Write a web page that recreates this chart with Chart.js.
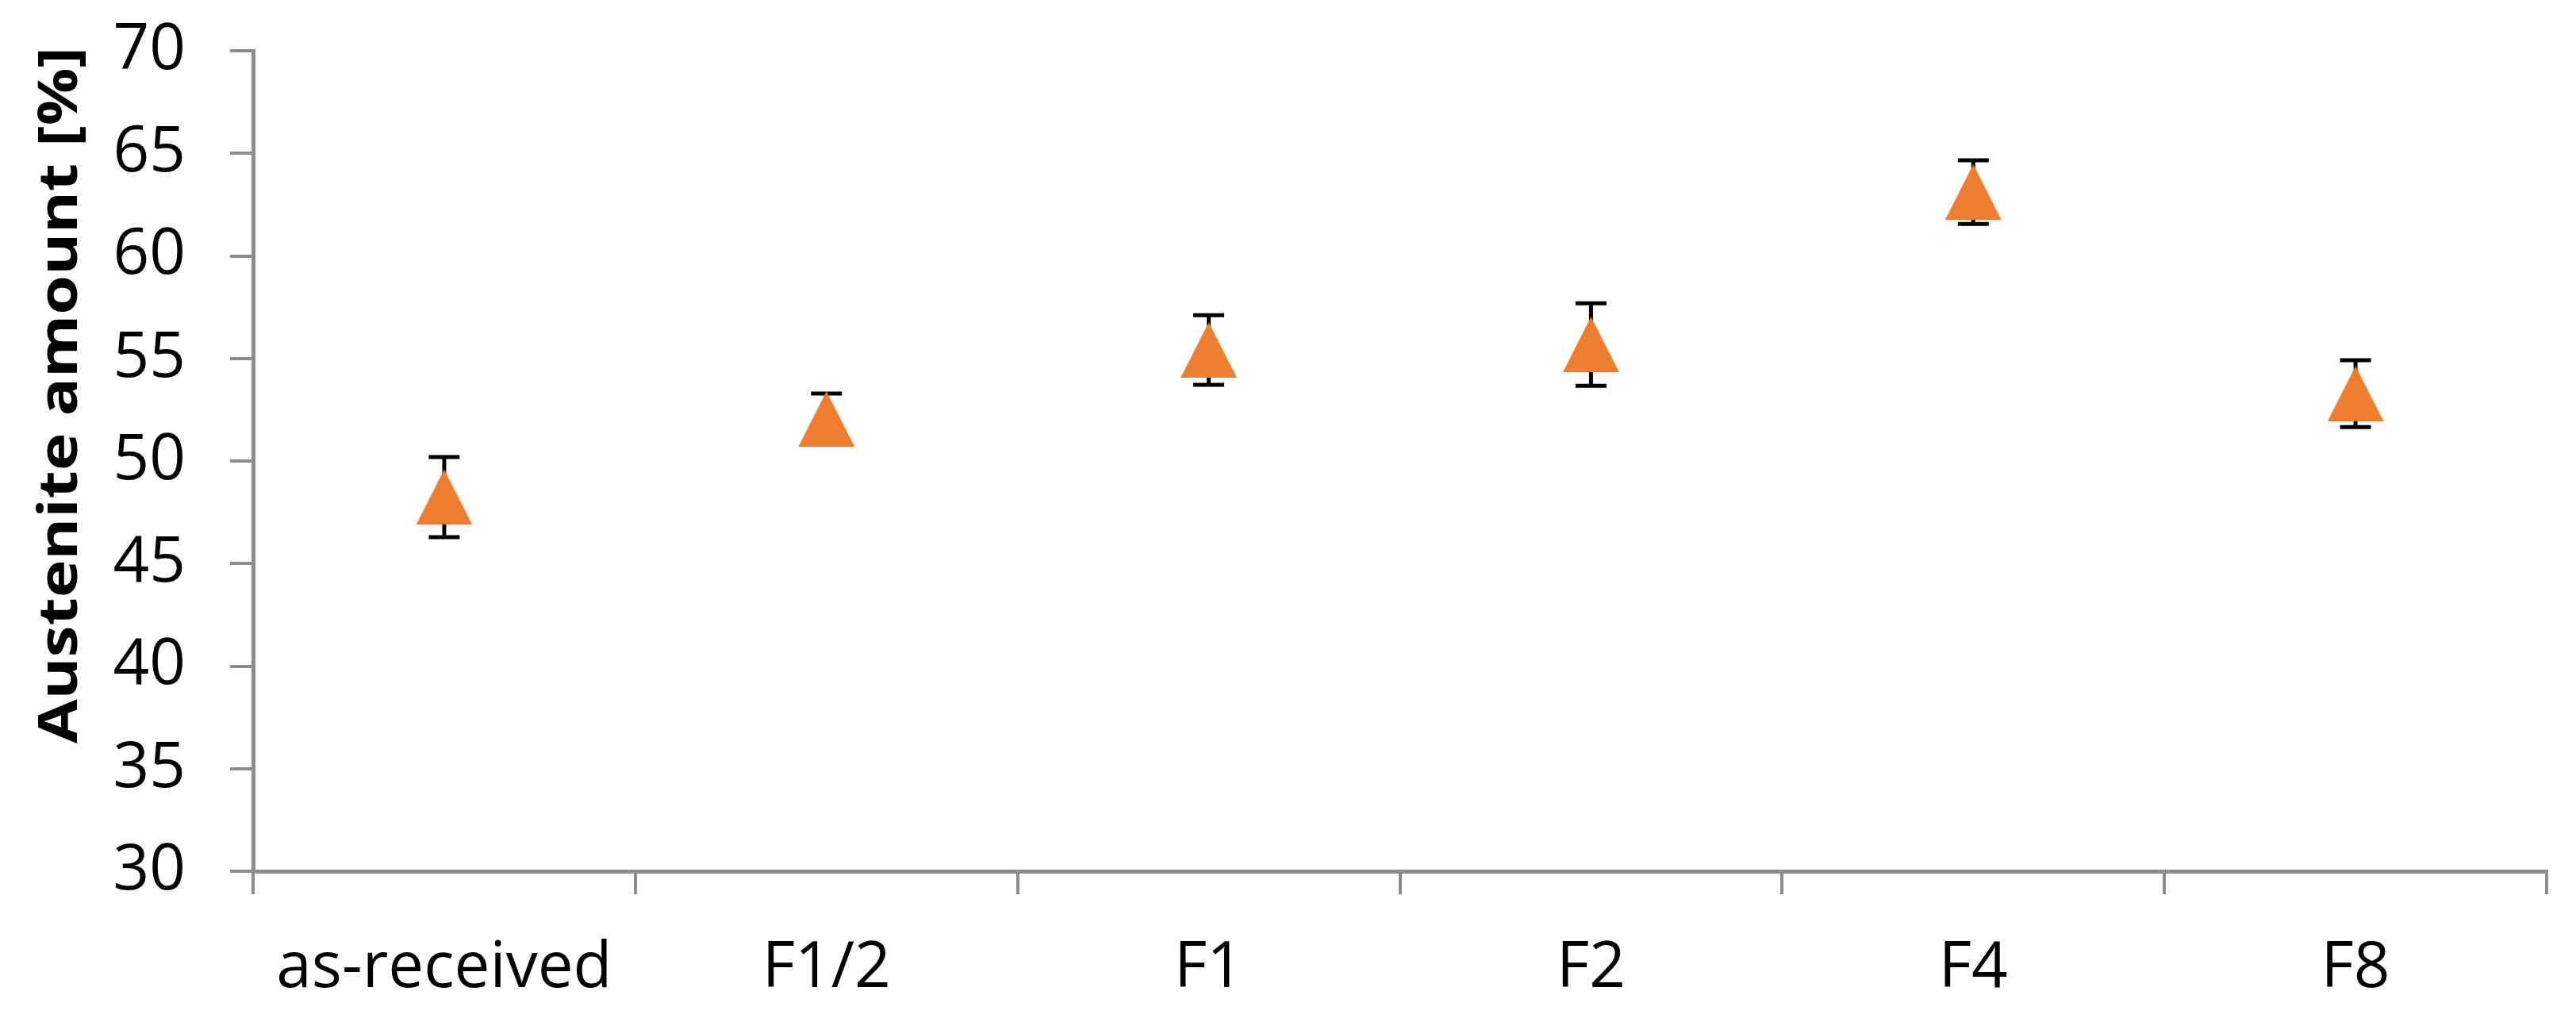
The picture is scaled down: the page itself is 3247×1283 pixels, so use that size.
<!DOCTYPE html>
<html>
<head>
<meta charset="utf-8">
<script src="https://cdn.jsdelivr.net/npm/chart.js@4.4.1/dist/chart.umd.min.js"></script>
<style>
  html, body { margin: 0; padding: 0; background: #ffffff; }
  #wrap { width: 3247px; height: 1283px; position: relative; }
</style>
</head>
<body>
<div id="wrap"><canvas id="c" width="3247" height="1283"></canvas></div>
<script>
// ---- data ----
const categories = ['as-received', 'F1/2', 'F1', 'F2', 'F4', 'F8'];
const austenite = [48.24, 52.05, 55.41, 55.68, 63.11, 53.28];
const austeniteErr = [1.95, 1.24, 1.70, 2.01, 1.55, 1.63];
const yTitle = 'Austenite amount [%]';
const yMin = 30, yMax = 70, yStep = 5;

// ---- styles ----
const ORANGE = '#ED7D31';
const AXIS_GREY = '#8c8c8c';
const FONT = "'Open Sans', 'Liberation Sans', sans-serif";

// triangle marker (isosceles, centred on its bounding box)
function makeTriangle(w, h, color) {
  const cv = document.createElement('canvas');
  cv.width = w; cv.height = h;
  const g = cv.getContext('2d');
  g.fillStyle = color;
  g.beginPath();
  g.moveTo(w / 2, 0);
  g.lineTo(w, h);
  g.lineTo(0, h);
  g.closePath();
  g.fill();
  return cv;
}
const triangle = makeTriangle(71, 70, ORANGE);

// error bars drawn beneath the markers
const errorBars = {
  id: 'errorBars',
  beforeDatasetsDraw(chart) {
    const ctx = chart.ctx;
    const xs = chart.scales.x, ys = chart.scales.y;
    const ds = chart.data.datasets[0];
    ctx.save();
    ctx.strokeStyle = '#000000';
    ctx.lineWidth = 5;
    ctx.lineCap = 'butt';
    ds.data.forEach((v, i) => {
      const e = ds.errors[i];
      const x = xs.getPixelForValue(i);
      const yTop = ys.getPixelForValue(v + e);
      const yBot = ys.getPixelForValue(v - e);
      const half = 19.5;
      ctx.beginPath();
      ctx.moveTo(x, yTop); ctx.lineTo(x, yBot);
      ctx.moveTo(x - half, yTop); ctx.lineTo(x + half, yTop);
      ctx.moveTo(x - half, yBot); ctx.lineTo(x + half, yBot);
      ctx.stroke();
    });
    ctx.restore();
  }
};

// rotated y-axis title
const yTitlePlugin = {
  id: 'yTitlePlugin',
  afterDraw(chart) {
    const ctx = chart.ctx;
    ctx.save();
    ctx.font = "bold 68px " + FONT;
    ctx.fillStyle = '#000000';
    ctx.textAlign = 'center';
    ctx.textBaseline = 'alphabetic';
    const w = ctx.measureText(yTitle).width;
    const target = 878;
    ctx.translate(97, 498);
    ctx.rotate(-Math.PI / 2);
    ctx.scale(target / w, 1);
    ctx.fillText(yTitle, 0, 0);
    ctx.restore();
  }
};

new Chart(document.getElementById('c'), {
  type: 'line',
  data: {
    labels: categories,
    datasets: [{
      data: austenite,
      errors: austeniteErr,
      showLine: false,
      pointStyle: triangle,
      pointRadius: 36,
      pointHoverRadius: 36,
      backgroundColor: ORANGE,
      borderColor: ORANGE
    }]
  },
  options: {
    responsive: false,
    animation: false,
    events: [],
    layout: { padding: { top: 64, right: 37, left: 0, bottom: 0 } },
    plugins: { legend: { display: false }, tooltip: { enabled: false }, title: { display: false } },
    scales: {
      x: {
        type: 'category',
        offset: true,
        grid: { offset: true, drawOnChartArea: false, drawTicks: true, tickLength: 29, color: AXIS_GREY, lineWidth: 4 },
        border: { display: true, color: AXIS_GREY, width: 5 },
        ticks: { color: '#000000', font: { family: FONT, size: 80 }, padding: 46, maxRotation: 0, autoSkip: false },
        afterFit(s) { s.height = 185; s.paddingLeft = 0; s.paddingRight = 0; }
      },
      y: {
        min: yMin, max: yMax,
        grid: { drawOnChartArea: false, drawTicks: true, tickLength: 29, color: AXIS_GREY, lineWidth: 4 },
        border: { display: true, color: AXIS_GREY, width: 5 },
        ticks: { stepSize: yStep, color: '#000000', font: { family: FONT, size: 80 }, padding: 56 },
        afterFit(s) { s.width = 319; s.paddingTop = 0; s.paddingBottom = 0; }
      }
    }
  },
  plugins: [errorBars, yTitlePlugin]
});
</script>
</body>
</html>
